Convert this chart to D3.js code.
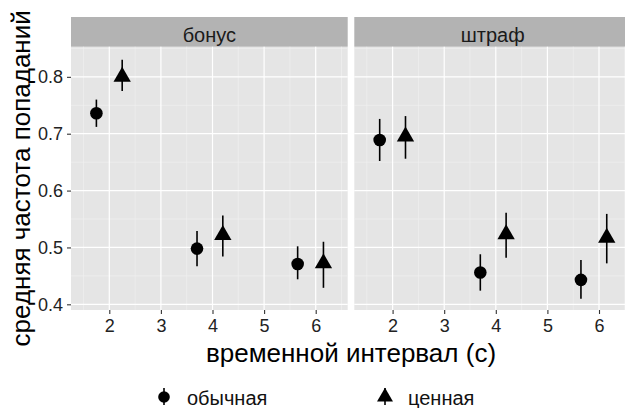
<!DOCTYPE html>
<html><head><meta charset="utf-8">
<script src="https://cdn.jsdelivr.net/npm/d3@7"></script>
<style>body{margin:0;background:#fff}svg{display:block}text{font-family:"Liberation Sans",Arial,sans-serif}</style>
</head><body><div id="c"></div>
<script>
const panels = ["бонус", "штраф"];
const groups = ["обычная", "ценная"];
const xPos = [1.75, 2.25, 3.7, 4.2, 5.65, 6.15];
const groupOf = ["обычная", "ценная", "обычная", "ценная", "обычная", "ценная"];
const meanBonus = [0.736, 0.800, 0.498, 0.522, 0.471, 0.472];
const lowBonus  = [0.712, 0.775, 0.467, 0.484, 0.444, 0.429];
const highBonus = [0.760, 0.830, 0.529, 0.556, 0.502, 0.510];
const meanPen = [0.689, 0.695, 0.456, 0.523, 0.443, 0.517];
const lowPen  = [0.652, 0.656, 0.424, 0.482, 0.410, 0.472];
const highPen = [0.726, 0.731, 0.488, 0.561, 0.478, 0.559];
const xTicks = [2, 3, 4, 5, 6];
const yTicks = [0.4, 0.5, 0.6, 0.7, 0.8];
const xMinor = [1.5, 2.5, 3.5, 4.5, 5.5, 6.5];
const yMinor = [0.45, 0.55, 0.65, 0.75, 0.85];
const xTitle = "временной интервал (с)";
const yTitle = "средняя частота попаданий";

(function(){
const W = 625, H = 408;
const svg = d3.select("#c").append("svg").attr("width", W).attr("height", H);
const pw = 276.7, gap = 6.6, pLeft = 71, pTop = 46.7, pBottom = 310, stripTop = 17;
const x = d3.scaleLinear().domain([1.258, 6.62]).range([0, pw]);
const y = d3.scaleLinear().domain([0.390, 0.853]).range([pBottom, pTop]);

const data = [
  xPos.map((v, i) => ({x: v, g: groupOf[i], m: meanBonus[i], lo: lowBonus[i], hi: highBonus[i]})),
  xPos.map((v, i) => ({x: v, g: groupOf[i], m: meanPen[i], lo: lowPen[i], hi: highPen[i]}))
];

const tri = d3.symbol().type(d3.symbolTriangle).size(130);
const FF = '"Liberation Sans",Arial,sans-serif';

panels.forEach((name, p) => {
  const ox = pLeft + p * (pw + gap);
  const g = svg.append("g").attr("transform", `translate(${ox},0)`);
  g.append("rect").attr("x", 0).attr("y", pTop).attr("width", pw).attr("height", pBottom - pTop).attr("fill", "#e5e5e5");
  g.append("rect").attr("x", 0).attr("y", stripTop).attr("width", pw).attr("height", pTop - stripTop).attr("fill", "#b3b3b3");
  g.append("text").attr("x", pw / 2).attr("y", 41.7).attr("text-anchor", "middle").attr("font-size", 20).attr("fill", "#1a1a1a").text(name);
  g.selectAll(".vx").data(xMinor).join("line").attr("x1", d => x(d)).attr("x2", d => x(d)).attr("y1", pTop).attr("y2", pBottom).attr("stroke", "#f2f2f2").attr("stroke-width", 0.6);
  g.selectAll(".vy").data(yMinor.filter(v => y(v) >= pTop)).join("line").attr("x1", 0).attr("x2", pw).attr("y1", d => y(d)).attr("y2", d => y(d)).attr("stroke", "#f2f2f2").attr("stroke-width", 0.6);
  g.selectAll(".mx").data(xTicks).join("line").attr("x1", d => x(d)).attr("x2", d => x(d)).attr("y1", pTop).attr("y2", pBottom).attr("stroke", "#fff").attr("stroke-width", 1.2);
  g.selectAll(".my").data(yTicks).join("line").attr("x1", 0).attr("x2", pw).attr("y1", d => y(d)).attr("y2", d => y(d)).attr("stroke", "#fff").attr("stroke-width", 1.2);
  const xa = g.append("g").attr("transform", `translate(0,${pBottom})`).call(d3.axisBottom(x).tickValues(xTicks).tickSize(4).tickPadding(5).tickFormat(d3.format("d")));
  xa.select(".domain").remove();
  xa.selectAll("line").attr("stroke", "#333").attr("stroke-width", 1.1);
  xa.selectAll("text").attr("font-size", 18).attr("fill", "#222").attr("font-family", FF);
  if (p === 0) {
    const ya = g.append("g").call(d3.axisLeft(y).tickValues(yTicks).tickSize(4).tickPadding(4).tickFormat(d3.format(".1f")));
    ya.select(".domain").remove();
    ya.selectAll("line").attr("stroke", "#333").attr("stroke-width", 1.1);
    ya.selectAll("text").attr("font-size", 18).attr("fill", "#222").attr("font-family", FF);
  }
  g.selectAll(".eb").data(data[p]).join("line").attr("x1", d => x(d.x)).attr("x2", d => x(d.x)).attr("y1", d => y(d.lo)).attr("y2", d => y(d.hi)).attr("stroke", "#000").attr("stroke-width", 1.6);
  g.selectAll(".pc").data(data[p].filter(d => d.g === groups[0])).join("circle").attr("cx", d => x(d.x)).attr("cy", d => y(d.m)).attr("r", 6.3).attr("fill", "#000");
  g.selectAll(".pt").data(data[p].filter(d => d.g === groups[1])).join("path").attr("d", tri).attr("transform", d => `translate(${x(d.x)},${y(d.m)})`).attr("fill", "#000");
});

svg.append("text").attr("x", pLeft + pw + gap / 2).attr("y", 362).attr("text-anchor", "middle").attr("font-size", 26).attr("fill", "#000").text(xTitle);
svg.append("text").attr("transform", `translate(30,${(pTop + pBottom) / 2}) rotate(-90)`).attr("text-anchor", "middle").attr("font-size", 26).attr("fill", "#000").text(yTitle);

const legX = [164, 385];
const lg = svg.append("g");
groups.forEach((gname, i) => {
  const cx = legX[i], cy = 397;
  lg.append("line").attr("x1", cx).attr("x2", cx).attr("y1", cy - 9).attr("y2", cy + 8).attr("stroke", "#000").attr("stroke-width", 1.6);
  if (i === 0) lg.append("circle").attr("cx", cx).attr("cy", cy).attr("r", 5.8).attr("fill", "#000");
  else lg.append("path").attr("d", d3.symbol().type(d3.symbolTriangle).size(110)).attr("transform", `translate(${cx},${cy})`).attr("fill", "#000");
  lg.append("text").attr("x", cx + 23).attr("y", 405).attr("font-size", 20).attr("fill", "#111").text(gname);
});
})();
</script></body></html>
